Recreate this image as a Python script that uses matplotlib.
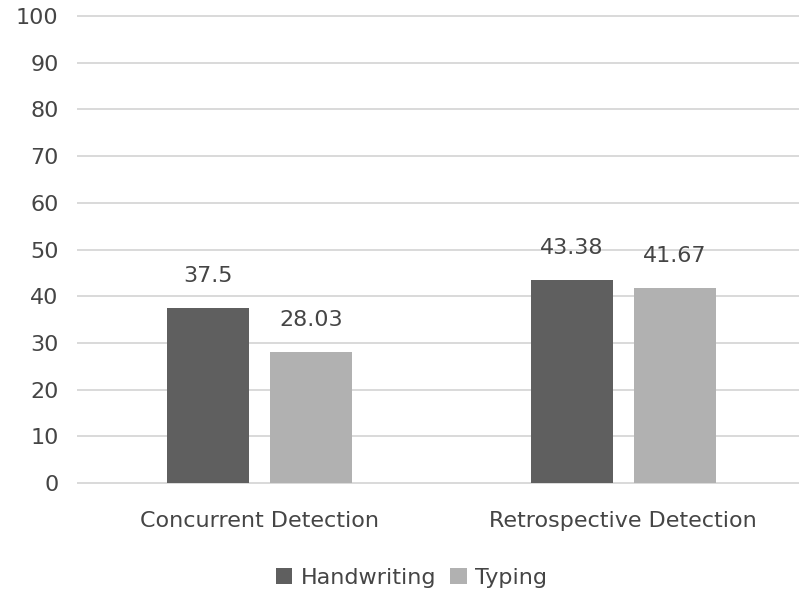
import matplotlib
matplotlib.use("Agg")
import matplotlib.pyplot as plt
import numpy as np

categories = ["Concurrent Detection", "Retrospective Detection"]
series_names = ["Handwriting", "Typing"]
handwriting = [37.5, 43.38]
typing = [28.03, 41.67]
labels_hw = ["37.5", "43.38"]
labels_ty = ["28.03", "41.67"]
yticks = [0, 10, 20, 30, 40, 50, 60, 70, 80, 90, 100]

plt.rcParams['font.family'] = ['DejaVu Sans']
TEXT = "#454545"
C_HW = "#5f5f5f"
C_TY = "#b1b1b1"
FS = 16

fig = plt.figure(figsize=(7.99, 5.96), dpi=100)
ax = fig.add_axes([78/799, (596-483)/596, (805-78)/799, (483-16)/596])

x = np.arange(len(categories))
w = 0.2256
off = 0.1417
b1 = ax.bar(x - off, handwriting, w, color=C_HW, label=series_names[0], zorder=3)
b2 = ax.bar(x + off, typing, w, color=C_TY, label=series_names[1], zorder=3)

for bars, labs in ((b1, labels_hw), (b2, labels_ty)):
    for r, lab in zip(bars, labs):
        ax.annotate(lab, (r.get_x() + r.get_width()/2, r.get_height()),
                    xytext=(0, 16), textcoords="offset points",
                    ha="center", va="bottom", fontsize=FS, color=TEXT)

ax.set_xlim(-0.5, 1.5)
ax.set_ylim(0, 100)
ax.set_yticks(yticks)
ax.set_yticklabels([str(t) for t in yticks], fontsize=FS, color=TEXT)
ax.set_xticks(x)
ax.set_xticklabels(categories, fontsize=FS, color=TEXT)
ax.tick_params(axis='y', length=0, pad=14)
ax.tick_params(axis='x', length=0, pad=20)
ax.yaxis.grid(True, color="#d9d9d9", linewidth=1.4, zorder=0)
for gl in ax.get_ygridlines():
    gl.set_clip_on(False)
for s in ax.spines.values():
    s.set_visible(False)

fig.legend(handles=[b1, b2], labels=series_names, loc="center",
           bbox_to_anchor=(0.515, 1 - 578/596), ncol=2, frameon=False,
           fontsize=FS, handlelength=0.75, handleheight=0.75, handletextpad=0.4,
           columnspacing=0.6, labelcolor=TEXT)

fig.savefig("out.png", dpi=100, facecolor="white")
